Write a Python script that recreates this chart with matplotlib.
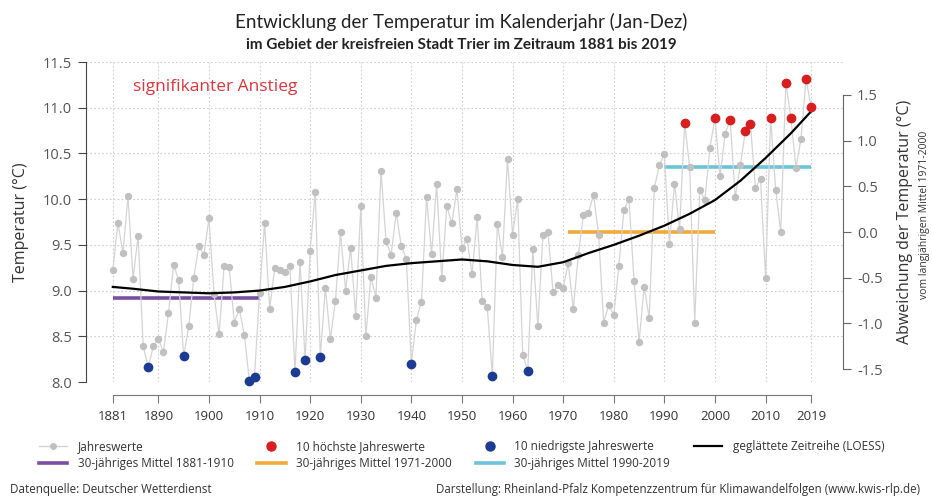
import numpy as np
import matplotlib.pyplot as plt
from matplotlib.lines import Line2D

plt.rcParams['font.family'] = ['Open Sans', 'DejaVu Sans']

# annual mean temperature Trier
years = list(range(1881, 2020))
temps = [
    9.22, 9.74, 9.41, 10.03, 9.13, 9.60, 8.39, 8.16, 8.39, 8.47,   # 1881-1890
    8.33, 8.75, 9.28, 9.12, 8.28, 8.61, 9.14, 9.49, 9.39, 9.79,    # 1891-1900
    8.96, 8.52, 9.27, 9.26, 8.65, 8.80, 8.51, 8.01, 8.06, 8.97,    # 1901-1910
    9.74, 8.80, 9.25, 9.22, 9.20, 9.27, 8.11, 9.31, 8.24, 9.43,    # 1911-1920
    10.08, 8.27, 9.03, 8.47, 8.89, 9.64, 9.00, 9.47, 8.72, 9.92,   # 1921-1930
    8.50, 9.15, 8.92, 10.31, 9.54, 9.39, 9.85, 9.49, 9.35, 8.20,   # 1931-1940
    8.68, 8.88, 10.02, 9.40, 10.17, 9.14, 9.92, 9.74, 10.11, 9.47, # 1941-1950
    9.56, 9.18, 9.80, 8.89, 8.82, 8.07, 9.73, 9.37, 10.44, 9.61,   # 1951-1960
    10.00, 8.30, 8.12, 9.46, 8.61, 9.61, 9.64, 8.98, 9.06, 9.03,   # 1961-1970
    9.30, 8.80, 9.39, 9.83, 9.85, 10.05, 9.61, 8.65, 8.84, 8.73,   # 1971-1980
    9.27, 9.88, 10.00, 9.11, 8.44, 9.04, 8.70, 10.12, 10.37, 10.49,  # 1981-1990
    9.51, 10.17, 9.67, 10.83, 10.35, 8.65, 10.10, 9.99, 10.56, 10.89,  # 1991-2000
    10.25, 10.71, 10.87, 10.02, 10.37, 10.74, 10.82, 10.12, 10.22, 9.14,  # 2001-2010
    10.89, 10.10, 9.64, 11.27, 10.89, 10.34, 10.66, 11.31, 11.01,  # 2011-2019
]

# smoothed series (LOESS) read at a few years
loess_years = [1881, 1885, 1890, 1895, 1900, 1905, 1910, 1915, 1920, 1925,
               1930, 1935, 1940, 1945, 1950, 1955, 1960, 1965, 1970, 1975,
               1980, 1985, 1990, 1995, 2000, 2005, 2010, 2015, 2019]
loess_vals = [9.04, 9.02, 8.99, 8.98, 8.97, 8.98, 9.00, 9.04, 9.10, 9.17,
              9.22, 9.27, 9.30, 9.32, 9.34, 9.32, 9.28, 9.26, 9.31, 9.41,
              9.50, 9.60, 9.71, 9.84, 9.99, 10.20, 10.45, 10.72, 10.96]

# 30-year means
mean_periods = [(1881, 1910), (1971, 2000), (1990, 2019)]
mean_vals = [8.92, 9.64, 10.35]
mean_colors = ['#7b4ea3', '#f2a93b', '#6cc3da']
mean_labels = ['30-jähriges Mittel 1881-1910', '30-jähriges Mittel 1971-2000',
               '30-jähriges Mittel 1990-2019']
ref_mean = 9.64  # reference 1971-2000 for right axis

xticks = [1881, 1890, 1900, 1910, 1920, 1930, 1940, 1950, 1960, 1970,
          1980, 1990, 2000, 2010, 2019]

yrs = np.array(years)
t = np.array(temps)
order = np.argsort(t)
low_idx = order[:10]
high_idx = order[-10:]

fig = plt.figure(figsize=(9.32, 4.96), dpi=100)
ax = fig.add_axes([86 / 932, 114 / 496, 757 / 932, 320 / 496])

grey = '#c0c0c0'
ax.plot(yrs, t, color='#d4d4d4', lw=0.9, marker='o', ms=4.3,
        mfc=grey, mec=grey, zorder=3)
for (a, b), v, c in zip(mean_periods, mean_vals, mean_colors):
    ax.plot([a, b], [v, v], color=c, lw=2.6, solid_capstyle='butt', zorder=2)
ax.plot(loess_years, loess_vals, color='black', lw=1.6, zorder=4)
ax.scatter(yrs[high_idx], t[high_idx], s=36, color='#d81e1e', zorder=5, clip_on=False)
ax.scatter(yrs[low_idx], t[low_idx], s=36, color='#1c3c93', zorder=5, clip_on=False)

ax.text(1885, 11.23, 'signifikanter Anstieg', color='#e0353d', fontsize=12.5,
        va='center', ha='left')

ax.set_xlim(1875.7, 2025.3)
ax.set_ylim(8.0, 11.5)
ax.set_xticks(xticks)
ax.set_yticks(np.arange(8.0, 11.51, 0.5))
ax.set_yticklabels([f'{v:.1f}' for v in np.arange(8.0, 11.51, 0.5)])
ax.grid(True, color='#cfcfcf', ls=(0, (1.5, 2)), lw=0.8)
ax.set_axisbelow(True)

for s in ['top', 'right']:
    ax.spines[s].set_visible(False)
ax.spines['bottom'].set_position(('outward', 9.5))
ax.spines['bottom'].set_bounds(1881, 2019)
ax.spines['bottom'].set_color('#777777')
ax.spines['left'].set_color('#444444')
ax.tick_params(axis='x', length=6, color='#777777', labelsize=9.5,
               labelcolor='#333333', pad=5)
ax.tick_params(axis='y', length=6, color='#444444', labelsize=10.5,
               labelcolor='#555555', pad=4)
ax.set_ylabel('Temperatur (°C)', fontsize=11.5, color='#333333', labelpad=10)

ax2 = ax.twinx()
ax2.set_ylim(8.0 - ref_mean, 11.5 - ref_mean)
ax2.set_yticks(np.arange(-1.5, 1.51, 0.5))
ax2.set_yticklabels([f'{v:.1f}' for v in np.arange(-1.5, 1.51, 0.5)])
for s in ['top', 'left', 'bottom']:
    ax2.spines[s].set_visible(False)
ax2.spines['right'].set_bounds(-1.5, 1.5)
ax2.spines['right'].set_color('#666666')
ax2.tick_params(axis='y', length=6, color='#666666', labelsize=10.5,
                labelcolor='#555555', pad=4)
fig.text(905 / 932, 1 - 222 / 496, 'Abweichung der Temperatur (°C)', rotation=90,
         ha='center', va='center', fontsize=11.5, color='#333333')
fig.text(925 / 932, 1 - 215 / 496, 'vom langjährigen Mittel 1971-2000', rotation=90,
         ha='center', va='center', fontsize=7.5, color='#333333')

fig.text(0.495, 1 - 22 / 496, 'Entwicklung der Temperatur im Kalenderjahr (Jan-Dez)',
         ha='center', va='center', fontsize=13.5, family=['Lato', 'DejaVu Sans'],
         color='#222222')
fig.text(0.495, 1 - 45 / 496, 'im Gebiet der kreisfreien Stadt Trier im Zeitraum 1881 bis 2019',
         ha='center', va='center', fontsize=11, family=['Lato', 'DejaVu Sans'],
         fontweight='bold', color='#222222')

handles = [
    Line2D([], [], color='#d4d4d4', lw=1, marker='o', ms=4, mfc=grey, mec=grey),
    Line2D([], [], color=mean_colors[0], lw=2.6),
    Line2D([], [], ls='none', marker='o', ms=6.5, color='#d81e1e'),
    Line2D([], [], color=mean_colors[1], lw=2.6),
    Line2D([], [], ls='none', marker='o', ms=6.5, color='#1c3c93'),
    Line2D([], [], color=mean_colors[2], lw=2.6),
    Line2D([], [], color='black', lw=1.6),
]
labels = ['Jahreswerte', mean_labels[0], '10 höchste Jahreswerte', mean_labels[1],
          '10 niedrigste Jahreswerte', mean_labels[2], 'geglättete Zeitreihe (LOESS)']
fig.legend(handles, labels, ncol=4, loc='center left',
           bbox_to_anchor=(28 / 932, 1 - 455 / 496), frameon=False, fontsize=8.5,
           handlelength=2.4, columnspacing=2.0, labelspacing=0.3,
           handletextpad=0.9, labelcolor='#333333')

fig.text(10 / 932, 1 - 489 / 496, 'Datenquelle: Deutscher Wetterdienst',
         ha='left', va='center', fontsize=8.4, color='#333333')
fig.text(920 / 932, 1 - 489 / 496,
         'Darstellung: Rheinland-Pfalz Kompetenzzentrum für Klimawandelfolgen (www.kwis-rlp.de)',
         ha='right', va='center', fontsize=8.3, color='#333333')

fig.savefig('out.png', dpi=100)
